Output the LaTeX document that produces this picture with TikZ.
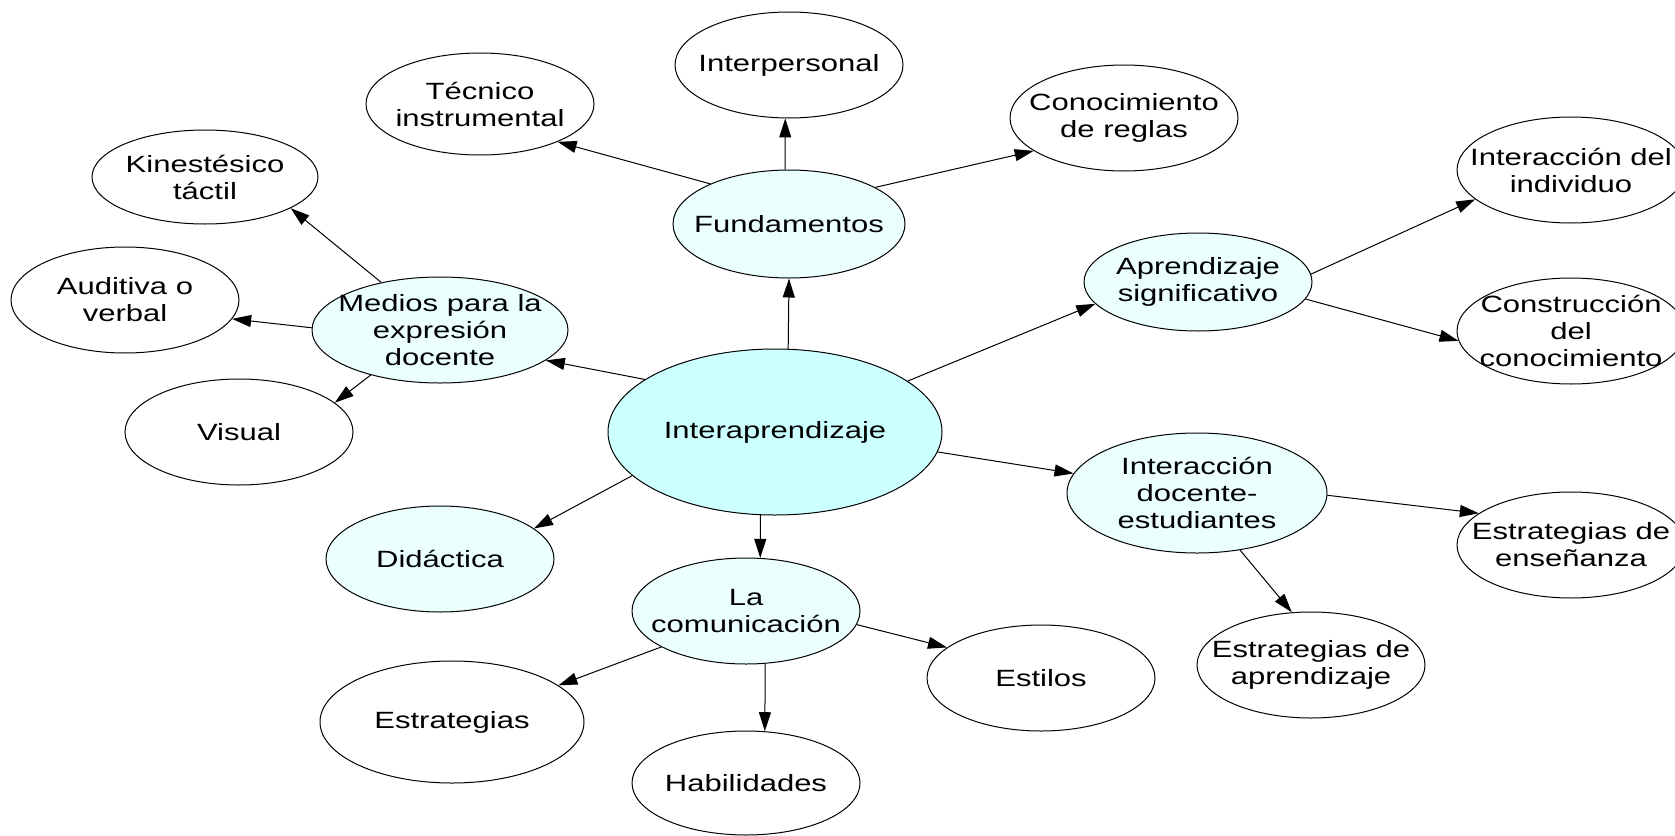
\documentclass[tikz,border=0pt]{standalone}
\usepackage{fontspec}
\setmainfont{Liberation Sans}[FakeStretch=1.32]
\usetikzlibrary{arrows.meta,shapes.geometric}
\definecolor{mainfill}{RGB}{204,255,255}
\definecolor{subfill}{RGB}{235,255,255}
\begin{document}
\begin{tikzpicture}[x=1pt,y=-1pt,
  base/.style={ellipse, draw=black, line width=1pt, inner sep=0pt, minimum width=228pt, minimum height=106pt},
  leaf/.style={base, fill=white},
  hub/.style={base, fill=subfill},
  core/.style={base, fill=mainfill, minimum width=334pt, minimum height=166pt},
  lbl/.style={align=center, font=\fontsize{23.5}{27}\selectfont, inner sep=0pt},
  link/.style={line width=1pt, -{Triangle[length=19pt,width=12pt]}}
]
\fill[white] (0,0) rectangle (1675,835);
\useasboundingbox (0,0) rectangle (1675,835);

\node[core, label={[lbl]center:Interaprendizaje}] (A) at (775,432) {};
\node[hub, minimum width=232pt, minimum height=108pt, label={[lbl]center:Fundamentos}] (F) at (789,224) {};
\node[leaf, label={[lbl]center:Interpersonal}] (IP) at (789,65) {};
\node[leaf, minimum height=102pt, label={[lbl]center:Técnico\\instrumental}] (TI) at (480,104) {};
\node[leaf, label={[lbl]center:Conocimiento\\de reglas}] (CR) at (1124,118) {};
\node[hub, minimum width=256pt, label={[lbl]center:Medios para la\\expresión\\docente}] (M) at (440,330) {};
\node[leaf, minimum width=226pt, minimum height=94pt, label={[lbl]center:Kinestésico\\táctil}] (K) at (205,177) {};
\node[leaf, label={[lbl]center:Auditiva o\\verbal}] (AV) at (125,300) {};
\node[leaf, label={[lbl]center:Visual}] (V) at (239,432) {};
\node[hub, label={[lbl]center:Didáctica}] (D) at (440,559) {};
\node[hub, label={[lbl]center:La\\comunicación}] (LC) at (746,611) {};
\node[leaf, minimum width=264pt, minimum height=122pt, label={[lbl]center:Estrategias}] (E) at (452,722) {};
\node[leaf, minimum height=104pt, label={[lbl]center:Habilidades}] (H) at (746,783) {};
\node[leaf, label={[lbl]center:Estilos}] (ES) at (1041,678) {};
\node[hub, minimum height=98pt, label={[lbl]center:Aprendizaje\\significativo}] (AS) at (1198,282) {};
\node[hub, minimum width=260pt, minimum height=120pt, label={[lbl]center:Interacción\\docente-\\estudiantes}] (ID) at (1197,493) {};
\node[leaf, label={[lbl]center:Interacción del\\individuo}] (II) at (1571,170) {};
\node[leaf, label={[lbl]center:Construcción\\del\\conocimiento}] (CC) at (1571,331) {};
\node[leaf, label={[lbl]center:Estrategias de\\enseñanza}] (EE) at (1571,545) {};
\node[leaf, label={[lbl]center:Estrategias de\\aprendizaje}] (EA) at (1311,665) {};

\draw[link] (A.81) -- (F.-90);
\draw[link] (F.94) -- (IP.266);
\draw[link] (F.153) -- (TI.-26);
\draw[link] (F.23) -- (CR.200);
\draw[link] (A.158) -- (M.-16);
\draw[link] (M.141) -- (K.-20);
\draw[link] (M.179) -- (AV.-10);
\draw[link] (M.213) -- (V.17);
\draw[link] (A.197) -- (D.18);
\draw[link] (A.260) -- (LC.75);
\draw[link] (LC.203) -- (E.19);
\draw[link] (LC.-70) -- (H.70);
\draw[link] (LC.-7) -- (ES.162);
\draw[link] (A.21) -- (AS.192);
\draw[link] (AS.4) -- (II.197);
\draw[link] (AS.-9) -- (CC.185);
\draw[link] (A.-7) -- (ID.171);
\draw[link] (ID.-1) -- (EE.161);
\draw[link] (ID.-53) -- (EA.110);
\end{tikzpicture}
\end{document}
